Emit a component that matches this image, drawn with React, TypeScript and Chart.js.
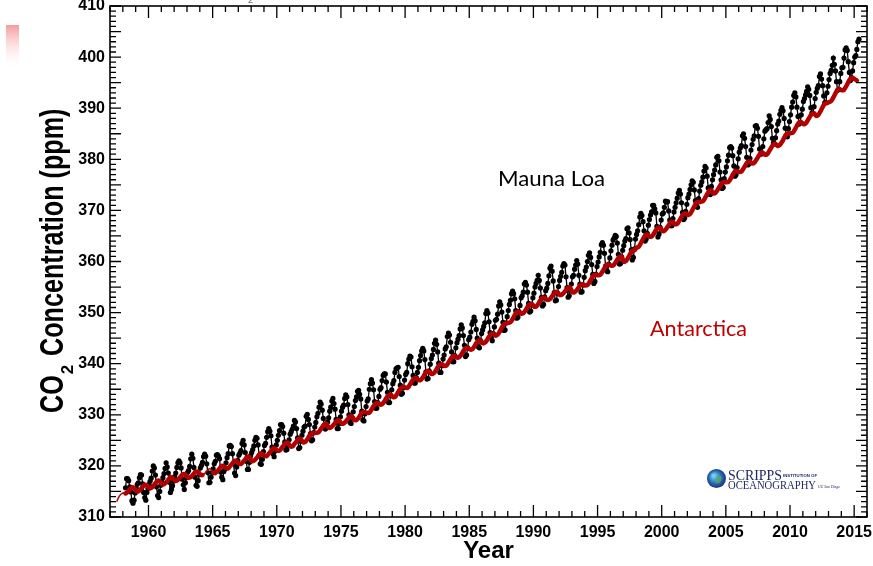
import { useEffect, useRef } from "react";
import { Chart, registerables } from "chart.js";

Chart.register(...registerables);

// ---------------- data ----------------
// Mauna Loa monthly mean CO2 (ppm), starting March 1958
const maunaLoaStartYear = 1958;
const maunaLoaStartMonth = 3;
const maunaLoaPpm = [
  315.7, 317.5, 317.5, 317.1, 315.9, 314.9, 313.2, 312.7, 313.3, 314.7,
  315.6, 316.4, 316.7, 317.7, 318.3, 318.2, 316.5, 314.8, 313.8, 313.3, 314.8, 315.6,
  316.4, 317.0, 317.6, 319.0, 320.0, 319.6, 318.2, 315.9, 314.2, 313.8, 315.0, 316.2,
  316.9, 317.7, 318.5, 319.5, 320.6, 319.8, 318.6, 316.8, 314.8, 315.4, 316.1, 317.0,
  317.9, 318.6, 319.7, 320.6, 321.0, 320.6, 319.6, 317.4, 316.3, 315.4, 316.7, 317.7,
  318.7, 319.1, 319.9, 321.4, 322.3, 321.5, 319.7, 317.8, 316.2, 316.0, 317.1, 318.3,
  319.6, 320.1, 320.7, 321.8, 322.3, 321.9, 320.4, 318.7, 316.7, 316.8, 317.8, 318.7,
  319.4, 320.4, 320.9, 322.1, 322.2, 321.9, 321.4, 318.8, 317.8, 317.3, 318.9, 319.4,
  320.6, 321.6, 322.4, 323.9, 324.0, 323.8, 322.4, 320.4, 318.6, 318.1, 319.8, 321.1,
  322.1, 322.5, 323.0, 324.4, 325.0, 324.1, 322.6, 320.9, 319.3, 319.3, 320.7, 322.0,
  322.6, 323.2, 323.9, 325.0, 325.6, 325.4, 324.1, 322.0, 320.4, 320.3, 321.3, 322.8,
  324.0, 324.4, 325.6, 326.7, 327.3, 326.8, 325.9, 323.7, 322.4, 321.8, 322.9, 324.1,
  325.0, 326.0, 326.9, 328.1, 328.1, 327.7, 326.4, 324.7, 323.1, 323.2, 324.0, 325.1,
  326.2, 326.7, 327.2, 327.8, 328.9, 328.6, 327.3, 325.5, 323.4, 323.6, 324.8, 326.0,
  326.8, 327.6, 327.8, 329.7, 330.1, 329.1, 328.1, 326.3, 324.9, 325.1, 326.5, 327.6,
  328.5, 329.6, 330.3, 331.5, 332.5, 332.1, 330.9, 329.3, 327.5, 327.2, 328.2, 328.6,
  329.4, 330.7, 331.5, 332.7, 333.2, 332.2, 331.1, 329.1, 327.3, 327.3, 328.3, 329.6,
  330.7, 331.5, 331.9, 333.2, 333.9, 333.5, 332.0, 330.0, 328.5, 328.3, 329.4, 330.6,
  331.6, 332.8, 333.5, 334.6, 334.8, 334.0, 333.1, 330.7, 329.0, 328.8, 330.2, 331.6,
  332.7, 333.1, 335.0, 336.1, 336.9, 336.2, 334.9, 332.6, 331.3, 331.3, 332.4, 333.6,
  335.0, 335.3, 336.7, 337.7, 338.0, 338.0, 336.4, 334.4, 332.4, 332.4, 333.8, 334.9,
  336.1, 336.7, 338.3, 339.0, 339.2, 339.3, 337.5, 335.8, 334.0, 334.2, 335.3, 336.8,
  337.9, 338.3, 340.0, 340.9, 341.5, 341.3, 339.4, 337.7, 336.2, 336.2, 337.3, 338.3,
  339.3, 340.6, 341.6, 342.5, 343.0, 342.5, 340.8, 338.4, 337.0, 337.1, 338.6, 339.9,
  341.0, 341.7, 342.8, 344.0, 344.6, 343.8, 342.3, 340.1, 338.3, 338.3, 339.6, 340.9,
  341.7, 342.9, 343.3, 345.3, 346.0, 345.6, 344.2, 342.3, 340.4, 340.4, 341.6, 343.1,
  344.1, 344.8, 345.5, 346.8, 347.6, 347.0, 345.5, 343.6, 341.4, 341.7, 343.1, 344.7,
  345.2, 346.2, 347.7, 348.3, 349.1, 348.4, 346.7, 345.0, 343.3, 343.1, 344.5, 345.9,
  346.6, 347.3, 348.0, 349.8, 350.4, 349.9, 348.2, 346.1, 345.2, 344.5, 345.9, 347.2,
  348.5, 348.7, 349.7, 351.3, 352.1, 351.5, 350.1, 348.1, 346.5, 346.6, 348.0, 349.2,
  350.4, 351.6, 352.4, 353.7, 354.2, 353.7, 352.7, 350.4, 348.9, 349.1, 350.2, 351.4,
  352.9, 353.3, 354.0, 355.6, 355.9, 355.4, 354.0, 351.8, 350.1, 350.3, 351.5, 352.9,
  353.8, 355.0, 355.7, 356.3, 357.3, 356.3, 354.8, 353.0, 351.3, 351.6, 353.1, 354.3,
  354.8, 355.7, 357.2, 358.7, 359.1, 358.1, 356.2, 353.9, 352.3, 352.4, 353.8, 355.1,
  356.3, 357.1, 357.9, 359.1, 359.6, 359.3, 357.0, 354.9, 353.0, 353.3, 354.3, 355.6,
  357.0, 357.3, 358.5, 359.3, 360.2, 359.5, 357.3, 355.6, 354.0, 354.1, 355.4, 356.9,
  358.2, 358.9, 360.0, 361.2, 361.7, 360.8, 359.4, 357.5, 355.7, 356.1, 357.5, 359.0,
  359.9, 360.9, 361.8, 363.3, 363.7, 363.2, 361.6, 359.1, 358.2, 358.0, 359.5, 360.7,
  362.1, 363.2, 364.2, 364.6, 365.1, 364.9, 363.6, 361.4, 359.5, 359.6, 360.9, 362.2,
  363.1, 364.0, 364.5, 366.4, 366.6, 365.6, 364.3, 362.3, 360.3, 360.8, 362.5, 364.4,
  365.3, 366.0, 367.2, 368.7, 369.4, 369.0, 367.8, 366.0, 364.0, 364.4, 365.5, 367.1,
  368.2, 369.1, 369.7, 371.0, 371.0, 370.3, 369.5, 366.9, 364.8, 365.4, 366.7, 368.1,
  369.3, 369.5, 370.6, 371.8, 371.6, 371.7, 369.9, 368.1, 367.0, 367.0, 368.4, 369.7,
  370.6, 371.5, 372.4, 373.4, 373.9, 373.2, 371.5, 369.6, 368.2, 368.5, 369.8, 371.2,
  372.5, 373.2, 374.1, 375.0, 375.8, 375.5, 374.0, 371.9, 370.8, 370.6, 372.3, 373.8,
  374.9, 375.6, 376.5, 377.7, 378.6, 378.3, 376.7, 374.4, 373.2, 373.1, 374.7, 376.0,
  377.0, 377.9, 378.9, 380.4, 380.6, 379.7, 377.5, 376.0, 374.3, 374.5, 376.2, 377.5,
  378.5, 379.7, 380.8, 382.3, 382.5, 382.2, 380.7, 378.7, 376.7, 377.0, 378.4, 380.1,
  381.4, 382.2, 382.7, 384.6, 385.0, 384.1, 382.5, 380.4, 378.9, 379.1, 380.2, 381.8,
  382.9, 383.9, 384.6, 386.5, 386.6, 386.1, 384.5, 382.0, 381.0, 381.1, 382.5, 384.0,
  385.5, 385.8, 386.0, 387.2, 388.5, 387.8, 386.4, 384.1, 383.2, 383.0, 384.2, 385.6,
  386.9, 387.5, 388.8, 389.6, 390.1, 389.5, 388.0, 386.1, 384.7, 384.4, 386.0, 387.4,
  388.7, 390.2, 391.2, 392.5, 393.0, 392.2, 390.2, 388.4, 386.9, 387.2, 388.7, 389.8,
  391.3, 391.9, 392.6, 393.3, 394.2, 393.7, 392.5, 390.1, 389.1, 389.0, 390.3, 391.9,
  393.1, 393.9, 394.4, 396.2, 396.7, 395.7, 394.4, 392.4, 391.1, 391.1, 393.0, 394.3,
  395.6, 396.8, 397.4, 398.4, 399.8, 398.6, 397.3, 395.2, 393.5, 393.7, 395.2, 396.8,
  397.9, 398.0, 399.8, 401.4, 401.8, 401.3, 399.1, 397.0, 395.4, 396.0, 397.3, 398.9,
  400.0, 400.3, 401.5, 403.0, 403.5,
];

// Antarctica (South Pole) CO2, every second month, starting July 1957
const antarcticaStartYear = 1957;
const antarcticaStartMonth = 7;
const antarcticaStepMonths = 2;
const antarcticaPpm = [
  313.1, 314.0, 314.5,
  314.7, 314.6, 314.9, 315.4, 315.8, 315.7,
  315.1, 315.0, 315.4, 315.9, 316.3, 316.2,
  315.7, 315.7, 316.1, 316.6, 317.1, 317.0,
  316.4, 316.4, 316.8, 317.3, 317.8, 317.6,
  317.2, 317.1, 317.5, 318.0, 318.4, 318.3,
  317.8, 317.7, 318.0, 318.5, 318.9, 318.8,
  318.3, 318.2, 318.5, 319.0, 319.4, 319.3,
  318.7, 318.6, 319.0, 319.5, 320.0, 319.9,
  319.6, 319.5, 320.0, 320.5, 321.0, 320.9,
  320.5, 320.4, 320.8, 321.3, 321.8, 321.7,
  321.0, 321.0, 321.4, 321.9, 322.4, 322.3,
  322.0, 321.9, 322.4, 322.9, 323.4, 323.4,
  323.0, 323.0, 323.5, 324.0, 324.5, 324.5,
  323.9, 323.8, 324.3, 324.8, 325.3, 325.2,
  324.6, 324.7, 325.2, 325.9, 326.4, 326.4,
  326.5, 326.5, 327.0, 327.6, 328.2, 328.2,
  327.5, 327.5, 327.9, 328.4, 328.9, 328.8,
  328.3, 328.3, 328.7, 329.2, 329.7, 329.6,
  329.0, 329.0, 329.4, 330.1, 330.6, 330.5,
  330.4, 330.4, 331.0, 331.7, 332.2, 332.3,
  332.0, 332.1, 332.6, 333.3, 333.8, 333.9,
  333.5, 333.5, 334.1, 334.8, 335.3, 335.4,
  335.3, 335.3, 335.9, 336.6, 337.1, 337.2,
  336.8, 336.8, 337.3, 338.0, 338.5, 338.5,
  338.0, 338.1, 338.6, 339.3, 339.8, 339.9,
  339.6, 339.6, 340.2, 340.9, 341.4, 341.5,
  341.2, 341.3, 341.8, 342.5, 343.0, 343.1,
  342.8, 342.8, 343.3, 344.0, 344.5, 344.5,
  344.0, 344.1, 344.6, 345.3, 345.8, 345.9,
  345.5, 345.7, 346.3, 347.1, 347.7, 347.9,
  348.0, 348.1, 348.7, 349.5, 350.1, 350.2,
  349.8, 349.9, 350.4, 351.1, 351.6, 351.7,
  351.2, 351.2, 351.7, 352.4, 352.9, 352.9,
  352.5, 352.5, 352.9, 353.5, 354.0, 354.0,
  353.5, 353.5, 353.9, 354.4, 354.9, 354.8,
  354.0, 354.0, 354.4, 355.0, 355.5, 355.5,
  355.3, 355.4, 356.0, 356.7, 357.3, 357.4,
  357.3, 357.4, 358.0, 358.7, 359.3, 359.4,
  359.2, 359.2, 359.7, 360.4, 360.9, 360.9,
  360.0, 360.1, 360.7, 361.5, 362.1, 362.2,
  362.7, 362.9, 363.6, 364.4, 365.1, 365.3,
  364.9, 364.9, 365.4, 366.1, 366.6, 366.6,
  366.0, 366.0, 366.5, 367.1, 367.7, 367.7,
  367.3, 367.4, 368.0, 368.7, 369.3, 369.4,
  369.1, 369.3, 370.0, 370.8, 371.5, 371.6,
  371.7, 371.8, 372.4, 373.2, 373.8, 373.9,
  373.3, 373.5, 374.1, 374.8, 375.4, 375.5,
  375.5, 375.6, 376.2, 377.0, 377.6, 377.7,
  377.5, 377.6, 378.2, 378.9, 379.5, 379.6,
  379.2, 379.3, 379.9, 380.6, 381.2, 381.3,
  380.9, 381.0, 381.6, 382.3, 382.9, 383.0,
  382.6, 382.8, 383.4, 384.2, 384.9, 385.0,
  385.1, 385.2, 385.8, 386.6, 387.2, 387.3,
  386.9, 387.0, 387.6, 388.3, 388.9, 389.0,
  388.5, 388.7, 389.4, 390.2, 390.9, 391.0,
  391.2, 391.4, 392.1, 392.9, 393.6, 393.7,
  393.5, 393.6, 394.3, 395.1, 395.8, 395.9,
  395.7, 395.4,
];
// stretches where the Antarctic record is only a thin interpolated line
const antarcticaThinSpans = [
  [1957.4, 1958.05],
  [1964.1, 1964.9],
];

const xMin = 1957;
const xMax = 2016;
const yMin = 310;
const yMax = 410;
const xLabelYears = [1960, 1965, 1970, 1975, 1980, 1985, 1990, 1995, 2000, 2005, 2010, 2015];
const yLabelValues = [310, 320, 330, 340, 350, 360, 370, 380, 390, 400, 410];

const SANS = "'Liberation Sans', Arial, Helvetica, sans-serif";

function fitText(
  ctx: CanvasRenderingContext2D,
  text: string,
  x: number,
  y: number,
  font: string,
  width: number,
  color: string
) {
  ctx.save();
  ctx.font = font;
  ctx.fillStyle = color;
  ctx.textAlign = "left";
  ctx.textBaseline = "alphabetic";
  const w = ctx.measureText(text).width || 1;
  ctx.translate(x, y);
  ctx.scale(width / w, 1);
  ctx.fillText(text, 0, 0);
  ctx.restore();
}

const decorPlugin = {
  id: "decor",
  beforeDraw(chart: any) {
    const ctx = chart.ctx as CanvasRenderingContext2D;
    ctx.save();
    ctx.fillStyle = "#ffffff";
    ctx.fillRect(0, 0, chart.width, chart.height);
    ctx.restore();
  },
  afterDraw(chart: any) {
    const ctx = chart.ctx as CanvasRenderingContext2D;
    const { left, right, top, bottom } = chart.chartArea;
    const xs = chart.scales.x;
    const ys = chart.scales.y;
    ctx.save();

    // frame
    ctx.strokeStyle = "#000";
    ctx.lineWidth = 1.6;
    ctx.strokeRect(left, top, right - left, bottom - top);

    // inward ticks, x
    ctx.lineWidth = 1.3;
    for (let yr = xMin; yr <= xMax; yr++) {
      const px = xs.getPixelForValue(yr);
      const len = yr % 5 === 0 ? 12 : 6;
      ctx.beginPath();
      ctx.moveTo(px, bottom);
      ctx.lineTo(px, bottom - len);
      ctx.moveTo(px, top);
      ctx.lineTo(px, top + len);
      ctx.stroke();
    }
    // inward ticks, y
    for (let v = yMin; v <= yMax; v++) {
      const py = ys.getPixelForValue(v);
      const len = v % 5 === 0 ? 11 : 6;
      ctx.beginPath();
      ctx.moveTo(left, py);
      ctx.lineTo(left + len, py);
      ctx.moveTo(right, py);
      ctx.lineTo(right - len, py);
      ctx.stroke();
    }

    // y-axis title with subscript
    ctx.save();
    ctx.translate(63, 413);
    ctx.rotate(-Math.PI / 2);
    ctx.fillStyle = "#000";
    ctx.textAlign = "left";
    ctx.textBaseline = "alphabetic";
    ctx.font = `bold 34px ${SANS}`;
    const sx = 0.74;
    const coW = ctx.measureText("CO").width * sx;
    ctx.save();
    ctx.scale(sx, 1);
    ctx.fillText("CO", 0, 0);
    ctx.restore();
    ctx.font = `bold 17px ${SANS}`;
    ctx.fillText("2", coW + 1, 10);
    ctx.save();
    ctx.translate(57, 0);
    ctx.scale(sx, 1);
    ctx.font = `bold 34px ${SANS}`;
    ctx.fillText("Concentration (ppm)", 0, 0);
    ctx.restore();
    ctx.restore();

    // series annotations
    fitText(ctx, "Mauna Loa", 498, 186, "22px Lato, 'Open Sans', sans-serif", 107, "#000");
    fitText(ctx, "Antarctica", 650, 336, "22px Lato, 'Open Sans', sans-serif", 97, "#c00000");

    // Scripps logo
    const gx = 716.5, gy = 478.5;
    const g = ctx.createRadialGradient(gx - 3, gy - 3, 1, gx, gy, 10);
    g.addColorStop(0, "#7fd0f0");
    g.addColorStop(0.5, "#2a7cc0");
    g.addColorStop(1, "#1c2a78");
    ctx.fillStyle = g;
    ctx.beginPath();
    ctx.arc(gx, gy, 9.5, 0, Math.PI * 2);
    ctx.fill();
    ctx.fillStyle = "rgba(90,170,90,0.7)";
    ctx.beginPath();
    ctx.ellipse(gx + 2, gy + 1, 3, 4, 0.4, 0, Math.PI * 2);
    ctx.fill();
    fitText(ctx, "SCRIPPS", 728, 479.5, "14px 'Liberation Serif', serif", 54, "#1f2860");
    fitText(ctx, "INSTITUTION OF", 783, 477, `bold 4px ${SANS}`, 34, "#1f2860");
    fitText(ctx, "OCEANOGRAPHY", 728, 488.5, "12.5px 'Liberation Serif', serif", 88, "#1f2860");
    fitText(ctx, "UC San Diego", 818, 488, "italic 4.5px 'Liberation Serif', serif", 22, "#1f2860");

    // faint pink bar at the left edge
    const pg = ctx.createLinearGradient(0, 25, 0, 70);
    pg.addColorStop(0, "rgba(244,120,120,0.75)");
    pg.addColorStop(1, "rgba(255,255,255,0)");
    ctx.fillStyle = pg;
    ctx.fillRect(6, 25, 13, 45);

    // cut-off subscript fragment at top
    ctx.fillStyle = "#666";
    ctx.font = `9px ${SANS}`;
    ctx.fillText("2", 248, 3);

    ctx.restore();
  },
};

export default function App() {
  const canvasRef = useRef<HTMLCanvasElement | null>(null);

  useEffect(() => {
    const canvas = canvasRef.current;
    if (!canvas) return;

    const mlPoints = maunaLoaPpm.map((v, i) => {
      const m = maunaLoaStartMonth - 1 + i;
      return { x: maunaLoaStartYear + (m + 0.5) / 12, y: v };
    });
    const antPoints = antarcticaPpm.map((v, i) => {
      const m = antarcticaStartMonth - 1 + i * antarcticaStepMonths;
      return { x: antarcticaStartYear + (m + 0.5) / 12, y: v };
    });
    const isThin = (x: number) => antarcticaThinSpans.some(([a, b]) => x >= a && x < b);

    const chart = new Chart(canvas, {
      type: "line",
      data: {
        datasets: [
          {
            label: "Antarctica",
            data: antPoints,
            borderColor: "#b30000",
            backgroundColor: "#b30000",
            borderWidth: 4.5,
            pointRadius: 0,
            tension: 0.35,
            borderCapStyle: "round",
            borderJoinStyle: "round",
            order: 0,
            segment: {
              borderWidth: (c: any) => (isThin(c.p0.parsed.x) ? 1.5 : 4.5),
            },
          } as any,
          {
            label: "Mauna Loa",
            data: mlPoints,
            borderColor: "#000",
            backgroundColor: "#000",
            borderWidth: 1.3,
            pointRadius: 2.6,
            pointBorderWidth: 0,
            pointBackgroundColor: "#000",
            tension: 0,
            order: 1,
          },
        ],
      },
      options: {
        responsive: false,
        animation: false,
        events: [],
        layout: { padding: { top: 6, right: 6, left: 0, bottom: 0 } },
        plugins: {
          legend: { display: false },
          tooltip: { enabled: false },
        },
        scales: {
          x: {
            type: "linear",
            position: "bottom",
            min: xMin,
            max: xMax,
            grid: { display: false, drawTicks: false },
            border: { display: false },
            afterBuildTicks: (s: any) => {
              s.ticks = xLabelYears.map((v) => ({ value: v }));
            },
            afterFit: (s: any) => {
              s.height = 49;
              s.paddingLeft = 0;
              s.paddingRight = 0;
            },
            ticks: {
              autoSkip: false,
              maxRotation: 0,
              padding: 6,
              color: "#000",
              font: { family: SANS, weight: "bold", size: 16 },
              callback: (v: any) => String(v),
            },
            title: {
              display: true,
              text: "Year",
              color: "#000",
              font: { family: SANS, weight: "bold", size: 24 },
              padding: { top: 0, bottom: 0 },
            },
          },
          y: {
            type: "linear",
            position: "left",
            min: yMin,
            max: yMax,
            grid: { display: false, drawTicks: false },
            border: { display: false },
            afterBuildTicks: (s: any) => {
              s.ticks = yLabelValues.map((v) => ({ value: v }));
            },
            afterFit: (s: any) => {
              s.width = 110;
              s.paddingTop = 0;
              s.paddingBottom = 0;
            },
            ticks: {
              padding: 5,
              color: "#000",
              font: { family: SANS, weight: "bold", size: 16 },
              callback: (v: any) => String(v),
            },
          },
        },
      } as any,
      plugins: [decorPlugin],
    });

    return () => chart.destroy();
  }, []);

  return (
    <div
      style={{
        position: "fixed",
        left: 0,
        top: 0,
        width: 873,
        height: 566,
        background: "#fff",
      }}
    >
      <canvas ref={canvasRef} width={873} height={566} style={{ display: "block" }} />
    </div>
  );
}
